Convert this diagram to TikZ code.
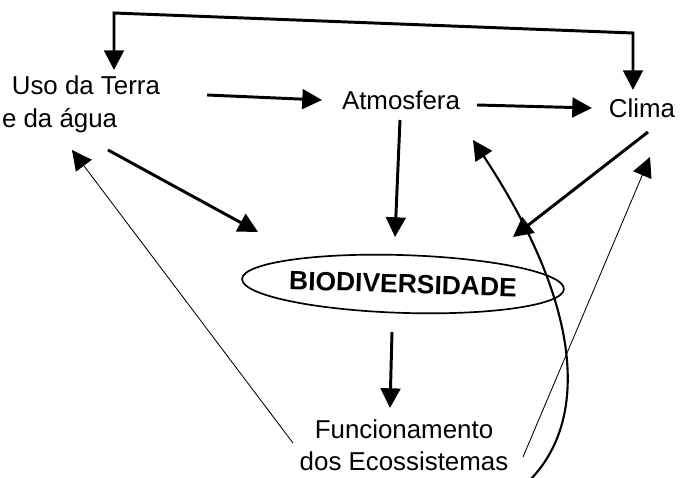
\documentclass[tikz,border=0pt]{standalone}
\usepackage{fontspec}
\setmainfont{Liberation Sans}
\usetikzlibrary{arrows.meta,calc,shapes.geometric}
\begin{document}
\begin{tikzpicture}[x=0.025cm,y=-0.025cm,
  txt/.style={inner sep=0pt,outer sep=0pt,font=\fontsize{18.4}{23.4}\selectfont},
  thickarr/.style={line width=2.1pt,-{Triangle[length=14pt,width=14pt]}},
  thinarr/.style={line width=0.6pt,-{Triangle[length=14pt,width=14pt]}},
  curvearr/.style={line width=1.5pt,-{Triangle[length=14pt,width=14pt]}}]
\clip (0,0) rectangle (680,478);
\fill[white] (0,0) rectangle (680,478);
% nodes
\node[txt,align=left,anchor=north west] (uso) at (2,76) {\hspace*{7pt}Uso da Terra\\e da água};
\node[txt,anchor=base] (atm) at (401,110) {Atmosfera};
\node[txt,anchor=base] (clima) at (642,118) {Clima};
\node[draw,ellipse,line width=1.2pt,inner sep=0pt,rotate=-1.8,
      minimum width=290*0.70866pt,minimum height=58*0.70866pt,
      font=\fontsize{18.8}{22}\selectfont\bfseries] (bio) at (403,284) {BIODIVERSIDADE};
\node[txt,align=center,anchor=north,font=\fontsize{18.4}{22.6}\selectfont] (fun) at (404,420) {Funcionamento\\dos Ecossistemas};
% connectors
\draw[line width=2.1pt,{Triangle[length=14pt,width=14pt]}-{Triangle[length=14pt,width=14pt]}]
  ($(uso.north west)+(112,-6)$) -- ($(uso.north west)+(112,-63)$)
  -- ($(clima.base)+(-9,-85)$) -- ($(clima.base)+(-9,-28)$);
\draw[thickarr] ($(uso.north west)+(205,19)$) -- ($(atm.base)+(-79,-10)$);
\draw[thickarr] ($(atm.base)+(76,-5)$) -- ($(clima.base)+(-50,-10)$);
\draw[thickarr] ($(atm.base)+(-1,10)$) -- ($(bio.center)+(-8,-47)$);
\draw[thickarr] ($(uso.north west)+(106,74)$) -- ($(bio.center)+(-145,-52)$);
\draw[thickarr] ($(clima.base)+(6,14)$) -- ($(bio.center)+(110,-47)$);
\draw[thickarr] ($(bio.center)+(-11,48)$) -- ($(fun.north)+(-14,-12)$);
\draw[thinarr] ($(fun.north)+(-111,23)$) -- ($(uso.north west)+(70,74)$);
\draw[thinarr] ($(fun.north)+(119,37)$) -- ($(clima.base)+(8,39)$);
\draw[curvearr] ($(fun.north)+(125,61)$) .. controls ($(fun.north)+(186,0)$) and ($(fun.north)+(178,-115)$) .. ($(atm.base)+(72,30)$);
\end{tikzpicture}
\end{document}
